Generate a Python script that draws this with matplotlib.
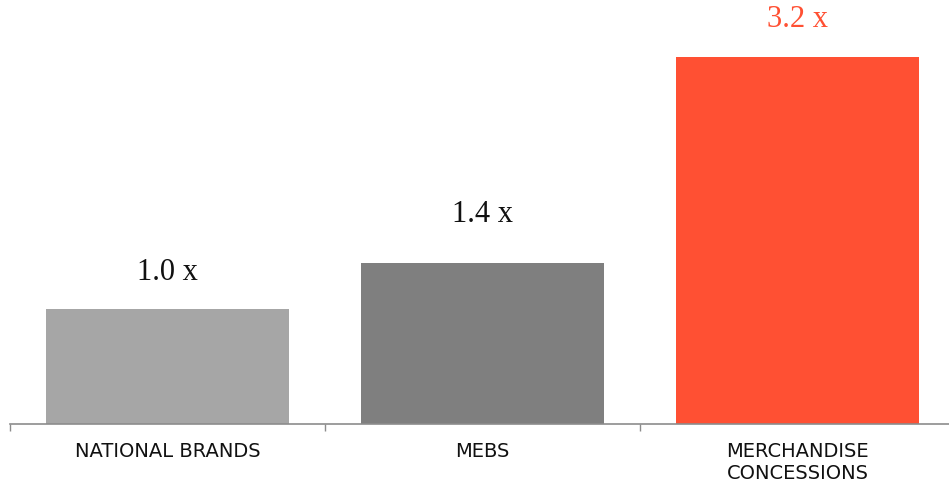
import matplotlib
matplotlib.use("Agg")
import matplotlib.pyplot as plt

categories = ["NATIONAL BRANDS", "MEBS", "MERCHANDISE\nCONCESSIONS"]
values = [1.0, 1.4, 3.2]
value_labels = ["1.0 x", "1.4 x", "3.2 x"]

bar_colors = ["#a6a6a6", "#7f7f7f", "#ff5033"]
label_colors = ["#111111", "#111111", "#ff5033"]
label_offsets_px = [22, 34, 23]

W, H = 949, 484
fig = plt.figure(figsize=(W / 100, H / 100), dpi=100)
ax = fig.add_axes([10 / W, 60 / H, 945 / W, 424 / H])

x = range(len(categories))
ax.bar(x, values, width=0.77, color=bar_colors, zorder=2)
ax.set_xlim(-0.5, 2.5)
ax.set_ylim(0, 424 / (367 / 3.2))

for i, (v, lab, c, off) in enumerate(zip(values, value_labels, label_colors, label_offsets_px)):
    ax.annotate(lab, xy=(i, v), xytext=(0, off * 0.72), textcoords="offset points",
                ha="center", va="bottom", fontsize=22, color=c,
                family="Liberation Serif")

for s in ["top", "right", "left"]:
    ax.spines[s].set_visible(False)
ax.spines["bottom"].set_color("#8c8c8c")
ax.spines["bottom"].set_linewidth(1.2)
ax.set_yticks([])
ax.set_xticks([-0.5, 0.5, 1.5], minor=False)
ax.set_xticklabels([])
ax.tick_params(axis="x", length=5, color="#8c8c8c", width=1)
for i, cat in enumerate(categories):
    ax.text(i, -0.16, cat, ha="center", va="top", fontsize=14,
            family="DejaVu Sans", color="#111111",
            linespacing=1.15, transform=ax.transData)

fig.savefig("out.png", dpi=100)
